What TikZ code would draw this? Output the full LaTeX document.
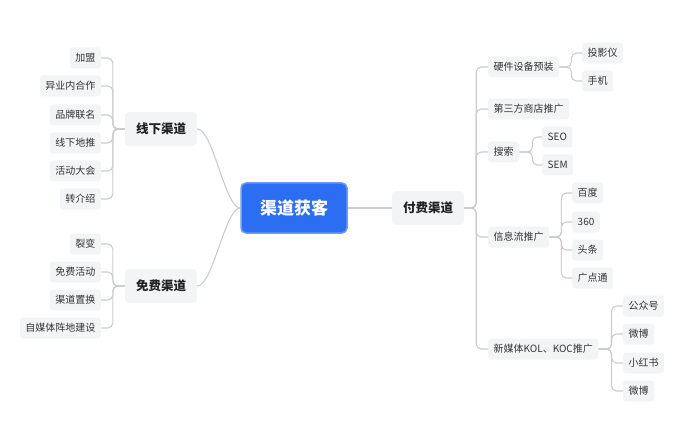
\documentclass[tikz,border=0pt]{standalone}
\usepackage{fontspec}
\setmainfont{Noto Sans CJK SC}
\definecolor{leafbg}{HTML}{F3F4F6}
\definecolor{leaftext}{HTML}{333333}
\definecolor{maintext}{HTML}{222222}
\definecolor{linec}{HTML}{CCCCCC}
\definecolor{rootbg}{HTML}{2B6EF2}
\definecolor{rootline}{HTML}{6C9CF6}
\begin{document}
\begin{tikzpicture}[x=1pt,y=-1pt,
  leaf/.style={fill=leafbg, rounded corners=3pt, inner xsep=5.5pt, inner ysep=0pt, minimum height=21pt, font=\fontsize{10}{12}\selectfont, text=leaftext},
  mainbox/.style={fill=leafbg, rounded corners=4pt, inner xsep=11pt, inner ysep=0pt, minimum height=34pt, font=\fontsize{12.5}{14}\selectfont\bfseries, text=maintext},
  rootbox/.style={fill=rootbg, draw=rootline, line width=1.5pt, rounded corners=5pt, minimum width=106pt, minimum height=50pt, font=\fontsize{17}{19}\selectfont\bfseries, text=white},
  conn/.style={draw=linec, line width=1.1pt, rounded corners=5pt}]
\useasboundingbox (0,0) rectangle (692,430);
% main nodes
\node[rootbox] (root) at (294,208) {渠道获客};
\node[mainbox] (xx) at (161,129) {线下渠道};
\node[mainbox] (mf) at (161,286) {免费渠道};
\node[mainbox] (ff) at (428,208) {付费渠道};
% left leaves
\node[leaf, anchor=east] (l1) at (101,58) {加盟};
\node[leaf, anchor=east] (l2) at (101,86) {异业内合作};
\node[leaf, anchor=east] (l3) at (101,115) {品牌联名};
\node[leaf, anchor=east] (l4) at (101,143) {线下地推};
\node[leaf, anchor=east] (l5) at (101,171) {活动大会};
\node[leaf, anchor=east] (l6) at (101,199) {转介绍};
\node[leaf, anchor=east] (m1) at (101,244) {裂变};
\node[leaf, anchor=east] (m2) at (101,272) {免费活动};
\node[leaf, anchor=east] (m3) at (101,300) {渠道置换};
\node[leaf, anchor=east] (m4) at (101,328) {自媒体阵地建设};
% right leaves
\node[leaf, anchor=west] (r1) at (488,67) {硬件设备预装};
\node[leaf, anchor=west] (r2) at (488,109) {第三方商店推广};
\node[leaf, anchor=west] (r3) at (488,152) {搜索};
\node[leaf, anchor=west] (r4) at (488,237) {信息流推广};
\node[leaf, anchor=west] (r5) at (488,349) {新媒体KOL、KOC推广};
\node[leaf, anchor=west] (r1a) at (582,53) {投影仪};
\node[leaf, anchor=west] (r1b) at (582,81) {手机};
\node[leaf, anchor=west] (r3a) at (542,137) {SEO};
\node[leaf, anchor=west] (r3b) at (542,165) {SEM};
\node[leaf, anchor=west] (r4a) at (572,193) {百度};
\node[leaf, anchor=west] (r4b) at (572,222) {360};
\node[leaf, anchor=west] (r4c) at (572,250) {头条};
\node[leaf, anchor=west] (r4d) at (572,278) {广点通};
\node[leaf, anchor=west] (r5a) at (623,306) {公众号};
\node[leaf, anchor=west] (r5b) at (623,334) {微博};
\node[leaf, anchor=west] (r5c) at (623,363) {小红书};
\node[leaf, anchor=west] (r5d) at (623,391) {微博};
% root connectors
\draw[conn] (root.west) .. controls (225,208) and (213,129) .. (xx.east);
\draw[conn] (root.west) .. controls (225,208) and (213,286) .. (mf.east);
\draw[conn] (root.east) -- (ff.west);
% left trees
\foreach \c in {l1,l2,l3,l4,l5,l6} \draw[conn] (xx.west) -- ++(-12,0) |- (\c.east);
\foreach \c in {m1,m2,m3,m4} \draw[conn] (mf.west) -- ++(-12,0) |- (\c.east);
% right trees
\foreach \c in {r1,r2,r3,r4,r5} \draw[conn] (ff.east) -- ++(12,0) |- (\c.west);
\foreach \c in {r1a,r1b} \draw[conn] (r1.east) -- ++(12,0) |- (\c.west);
\foreach \c in {r3a,r3b} \draw[conn] (r3.east) -- ++(13,0) |- (\c.west);
\foreach \c in {r4a,r4b,r4c,r4d} \draw[conn] (r4.east) -- ++(12,0) |- (\c.west);
\foreach \c in {r5a,r5b,r5c,r5d} \draw[conn] (r5.east) -- ++(13,0) |- (\c.west);
\end{tikzpicture}
\end{document}
